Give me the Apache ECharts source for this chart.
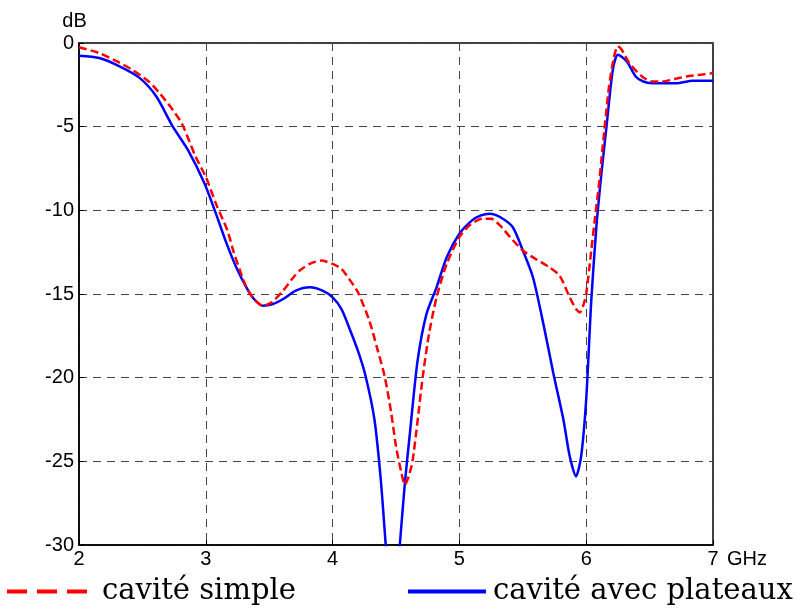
<!DOCTYPE html>
<html><head><meta charset="utf-8">
<script src="https://cdn.jsdelivr.net/npm/echarts@6/dist/echarts.min.js"></script>
<style>html,body{margin:0;padding:0;background:#fff}#c{width:803px;height:610px}</style>
</head><body><div id="c"></div>
<script>
const xTicks = [2, 3, 4, 5, 6, 7];
const yTicks = [0, -5, -10, -15, -20, -25, -30];
const seriesNames = ['cavité simple', 'cavité avec plateaux'];
const simpleX = [2.0,2.16,2.3,2.42,2.55,2.63,2.72,2.81,2.92,3.0,3.08,3.17,3.22,3.27,3.32,3.38,3.45,3.52,3.61,3.68,3.74,3.82,3.91,4.0,4.07,4.13,4.2,4.29,4.35,4.41,4.46,4.5,4.54,4.57,4.6,4.63,4.67,4.71,4.76,4.82,4.9,5.0,5.08,5.18,5.25,5.32,5.4,5.5,5.6,5.71,5.79,5.87,5.92,5.95,5.98,6.0,6.04,6.07,6.1,6.13,6.18,6.22,6.25,6.28,6.34,6.44,6.52,6.6,6.7,6.79,6.9,7.0];
const simpleY = [-0.25,-0.6,-1.1,-1.6,-2.3,-2.95,-3.8,-4.8,-6.8,-8.0,-9.6,-11.2,-12.5,-13.6,-14.6,-15.3,-15.7,-15.5,-14.8,-14.1,-13.6,-13.2,-13.0,-13.2,-13.5,-14.1,-14.9,-16.6,-18.2,-19.9,-22.0,-24.1,-25.6,-26.4,-25.9,-25.0,-22.6,-20.0,-17.4,-15.2,-13.2,-11.6,-10.9,-10.5,-10.5,-10.9,-11.6,-12.4,-12.9,-13.4,-13.9,-15.2,-15.9,-16.1,-15.6,-15.0,-12.4,-10.4,-8.5,-6.2,-2.6,-0.8,-0.2,-0.4,-1.2,-2.0,-2.3,-2.3,-2.15,-2.0,-1.9,-1.8];
const plateauxX = [2.0,2.16,2.32,2.48,2.61,2.74,2.86,2.99,3.08,3.16,3.24,3.32,3.38,3.45,3.53,3.61,3.71,3.82,3.92,4.0,4.07,4.13,4.2,4.26,4.33,4.38,4.42,4.45,4.5,4.53,4.57,4.61,4.67,4.74,4.82,4.9,5.0,5.1,5.17,5.24,5.32,5.42,5.5,5.58,5.66,5.74,5.82,5.87,5.92,5.96,6.0,6.04,6.08,6.12,6.16,6.21,6.25,6.32,6.39,6.45,6.52,6.71,6.84,7.0];
const plateauxY = [-0.76,-0.9,-1.4,-2.1,-3.2,-5.0,-6.4,-8.4,-10.2,-11.9,-13.4,-14.6,-15.3,-15.7,-15.6,-15.3,-14.8,-14.6,-14.8,-15.2,-15.9,-17.0,-18.4,-19.9,-22.5,-26.1,-30.1,-33,-33,-30.0,-26.3,-23.3,-19.0,-16.2,-14.6,-12.8,-11.4,-10.6,-10.3,-10.2,-10.4,-11.0,-12.4,-14.0,-16.7,-19.7,-22.5,-24.7,-25.9,-24.7,-21.3,-15.4,-11.0,-7.8,-5.0,-1.6,-0.7,-1.1,-2.0,-2.3,-2.4,-2.4,-2.25,-2.25];

const zip = (xs, ys) => xs.map((x, i) => [x, ys[i]]);
const chart = echarts.init(document.getElementById('c'), null, {renderer: 'canvas'});
const lab = {fontFamily: 'Liberation Sans, Arial, sans-serif', color: '#000'};
const legendText = {fontFamily: 'DejaVu Serif, serif', fontSize: 29, color: '#000', padding: [0, 0, 0, 2]};
chart.setOption({
  animation: false,
  backgroundColor: '#fff',
  grid: {left: 79, right: 90, top: 43, bottom: 65, show: true, borderColor: '#000', borderWidth: 1.5, containLabel: false},
  xAxis: {
    type: 'value', min: xTicks[0], max: xTicks[xTicks.length - 1], interval: 1,
    name: 'GHz', nameLocation: 'end', nameGap: 14,
    nameTextStyle: Object.assign({fontSize: 20, verticalAlign: 'top', padding: [4, 0, 0, 0]}, lab),
    axisLine: {show: true, onZero: false, lineStyle: {color: '#000', width: 1.5}},
    axisTick: {show: true, inside: true, length: 5, lineStyle: {color: '#000'}},
    axisLabel: Object.assign({fontSize: 20, margin: 4}, lab),
    splitLine: {show: true, lineStyle: {color: '#444', type: [8, 6], width: 1}}
  },
  yAxis: {
    type: 'value', min: yTicks[yTicks.length - 1], max: yTicks[0], interval: 5,
    name: 'dB', nameLocation: 'end', nameGap: 12,
    nameTextStyle: Object.assign({fontSize: 20, padding: [0, 9, 0, 0]}, lab),
    axisLine: {show: true, onZero: false, lineStyle: {color: '#000', width: 1.5}},
    axisTick: {show: true, inside: true, length: 5, lineStyle: {color: '#000'}},
    axisLabel: Object.assign({fontSize: 20, margin: 5}, lab),
    splitLine: {show: true, lineStyle: {color: '#444', type: [8, 6], width: 1}}
  },
  legend: [
    {data: [seriesNames[0]], left: 0, top: 572, itemWidth: 88, itemHeight: 14, itemGap: 0,
     itemStyle: {opacity: 0}, lineStyle: {type: [20, 10], width: 4},
     textStyle: legendText},
    {data: [seriesNames[1]], left: 401, top: 572, itemWidth: 78, itemHeight: 14, itemGap: 0,
     itemStyle: {opacity: 0}, lineStyle: {width: 4},
     textStyle: legendText}
  ],
  series: [
    {name: seriesNames[0], type: 'line', data: zip(simpleX, simpleY), symbol: 'none', showSymbol: false,
     smooth: 0.25, clip: true, z: 3,
     lineStyle: {color: '#ff0000', width: 2.5, type: [8, 4]}, itemStyle: {color: '#ff0000'}},
    {name: seriesNames[1], type: 'line', data: zip(plateauxX, plateauxY), symbol: 'none', showSymbol: false,
     smooth: 0.25, clip: true, z: 2,
     lineStyle: {color: '#0000ff', width: 2.5}, itemStyle: {color: '#0000ff'}}
  ]
});
</script></body></html>
